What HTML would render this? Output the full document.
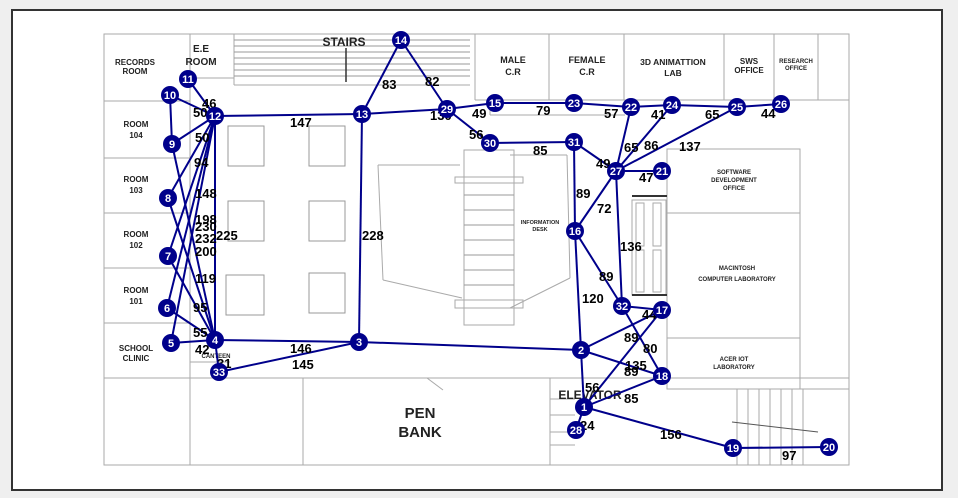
<!DOCTYPE html>
<html><head><meta charset="utf-8"><style>
html,body{margin:0;padding:0;background:#efefef;}
svg{display:block;}
.w{font-family:"Liberation Sans",sans-serif;font-weight:bold;fill:#222;text-anchor:middle;}
.l{font-family:"Liberation Sans",sans-serif;font-weight:bold;font-size:13px;fill:#000;}
.n{font-family:"Liberation Sans",sans-serif;font-weight:bold;font-size:11px;fill:#fff;text-anchor:middle;}
</style></head><body>
<svg width="958" height="498" viewBox="0 0 958 498" xmlns="http://www.w3.org/2000/svg">
<rect x="0" y="0" width="958" height="498" fill="#efefef"/>
<rect x="12" y="10" width="930" height="480" fill="#fff" stroke="#333" stroke-width="2"/>
<g fill="none" stroke="#aaa" stroke-width="1">
<rect x="104" y="34" width="745" height="431"/>
<line x1="104" y1="101" x2="190" y2="101"/>
<line x1="190" y1="34" x2="190" y2="465"/>
<line x1="190" y1="78" x2="234" y2="78"/>
<line x1="234" y1="34" x2="234" y2="85"/>
<line x1="234" y1="85" x2="470" y2="85"/>
<line x1="104" y1="158" x2="190" y2="158"/>
<line x1="104" y1="213" x2="190" y2="213"/>
<line x1="104" y1="268" x2="190" y2="268"/>
<line x1="104" y1="323" x2="190" y2="323"/>
<line x1="104" y1="378" x2="849" y2="378"/>
<line x1="190" y1="362" x2="230" y2="362"/>
<line x1="303" y1="378" x2="303" y2="465"/>
<line x1="550" y1="378" x2="550" y2="465"/>
<line x1="475" y1="34" x2="475" y2="100"/>
<line x1="549" y1="34" x2="549" y2="100"/>
<line x1="624" y1="34" x2="624" y2="100"/>
<line x1="724" y1="34" x2="724" y2="100"/>
<line x1="774" y1="34" x2="774" y2="100"/>
<line x1="818" y1="34" x2="818" y2="100"/>
<line x1="475" y1="100" x2="849" y2="100"/>
<line x1="490" y1="100" x2="490" y2="115"/>
<line x1="490" y1="115" x2="625" y2="115"/>
<rect x="667" y="149" width="133" height="240"/>
<line x1="667" y1="213" x2="800" y2="213"/>
<line x1="667" y1="338" x2="800" y2="338"/>
<line x1="800" y1="389" x2="849" y2="389"/>
<line x1="378" y1="165" x2="460" y2="165"/>
<line x1="378" y1="165" x2="383" y2="280"/>
<line x1="383" y1="280" x2="462" y2="298"/>
<rect x="464" y="150" width="50" height="175"/>
<rect x="455" y="177" width="68" height="6"/>
<rect x="455" y="300" width="68" height="8"/>
<line x1="510" y1="155" x2="567" y2="155"/>
<line x1="567" y1="155" x2="570" y2="278"/>
<line x1="570" y1="278" x2="510" y2="308"/>
<rect x="632" y="200" width="34" height="95"/>
<rect x="636" y="203" width="8" height="43"/><rect x="653" y="203" width="8" height="43"/>
<rect x="636" y="250" width="8" height="42"/><rect x="653" y="250" width="8" height="42"/>
<line x1="737" y1="389" x2="737" y2="465"/>
<line x1="748" y1="389" x2="748" y2="465"/><line x1="759" y1="389" x2="759" y2="465"/>
<line x1="770" y1="389" x2="770" y2="465"/><line x1="781" y1="389" x2="781" y2="465"/>
<line x1="792" y1="389" x2="792" y2="465"/><line x1="803" y1="389" x2="803" y2="465"/>
<line x1="732" y1="422" x2="818" y2="432" stroke="#555"/>
<line x1="550" y1="399" x2="575" y2="399"/><line x1="550" y1="415" x2="575" y2="415"/>
<line x1="550" y1="432" x2="575" y2="432"/><line x1="550" y1="445" x2="575" y2="445"/>
<line x1="427" y1="378" x2="443" y2="390"/>
</g>
<g stroke="#999" stroke-width="1">
<line x1="234" y1="40" x2="470" y2="40"/><line x1="234" y1="46" x2="470" y2="46"/>
<line x1="234" y1="52" x2="470" y2="52"/><line x1="234" y1="58" x2="470" y2="58"/>
<line x1="234" y1="64" x2="470" y2="64"/><line x1="234" y1="70" x2="470" y2="70"/>
<line x1="234" y1="76" x2="470" y2="76"/>
<line x1="464" y1="195" x2="514" y2="195"/><line x1="464" y1="210" x2="514" y2="210"/>
<line x1="464" y1="225" x2="514" y2="225"/><line x1="464" y1="240" x2="514" y2="240"/>
<line x1="464" y1="255" x2="514" y2="255"/><line x1="464" y1="270" x2="514" y2="270"/>
<line x1="464" y1="285" x2="514" y2="285"/>
</g>
<line x1="346" y1="48" x2="346" y2="82" stroke="#333" stroke-width="1.5"/>
<line x1="632" y1="196" x2="667" y2="196" stroke="#333" stroke-width="2"/>
<line x1="632" y1="295" x2="667" y2="295" stroke="#333" stroke-width="2"/>
<g fill="none" stroke="#999">
<rect x="228" y="126" width="36" height="40"/><rect x="309" y="126" width="36" height="40"/>
<rect x="228" y="201" width="36" height="40"/><rect x="309" y="201" width="36" height="40"/>
<rect x="226" y="275" width="38" height="40"/><rect x="309" y="273" width="36" height="40"/>
</g>
<g class="w">
<text x="135" y="65" font-size="8">RECORDS</text><text x="135" y="74" font-size="8">ROOM</text>
<text x="201" y="52" font-size="10">E.E</text><text x="201" y="65" font-size="10">ROOM</text>
<text x="344" y="46" font-size="12">STAIRS</text>
<text x="136" y="127" font-size="8">ROOM</text><text x="136" y="138" font-size="8">104</text>
<text x="136" y="182" font-size="8">ROOM</text><text x="136" y="193" font-size="8">103</text>
<text x="136" y="237" font-size="8">ROOM</text><text x="136" y="248" font-size="8">102</text>
<text x="136" y="293" font-size="8">ROOM</text><text x="136" y="304" font-size="8">101</text>
<text x="136" y="351" font-size="8">SCHOOL</text><text x="136" y="361" font-size="8">CLINIC</text>
<text x="513" y="63" font-size="9">MALE</text><text x="513" y="75" font-size="9">C.R</text>
<text x="587" y="63" font-size="9">FEMALE</text><text x="587" y="75" font-size="9">C.R</text>
<text x="673" y="65" font-size="8.5">3D ANIMATTION</text><text x="673" y="76" font-size="8.5">LAB</text>
<text x="749" y="64" font-size="8">SWS</text><text x="749" y="73" font-size="8">OFFICE</text>
<text x="796" y="63" font-size="6">RESEARCH</text><text x="796" y="70" font-size="6">OFFICE</text>
<text x="734" y="174" font-size="6">SOFTWARE</text><text x="734" y="182" font-size="6">DEVELOPMENT</text><text x="734" y="190" font-size="6">OFFICE</text>
<text x="737" y="270" font-size="6">MACINTOSH</text><text x="737" y="281" font-size="6">COMPUTER LABORATORY</text>
<text x="734" y="361" font-size="6">ACER IOT</text><text x="734" y="369" font-size="6">LABORATORY</text>
<text x="540" y="224" font-size="5.5">INFORMATION</text><text x="540" y="231" font-size="5.5">DESK</text>
<text x="216" y="358" font-size="6">CANTEEN</text>
<text x="420" y="418" font-size="15">PEN</text><text x="420" y="437" font-size="15">BANK</text>
<text x="590" y="399" font-size="12">ELEVATOR</text>
</g>
<g stroke="#00008b" stroke-width="2" fill="none">
<line x1="215" y1="116" x2="188" y2="79"/><line x1="215" y1="116" x2="170" y2="95"/>
<line x1="215" y1="116" x2="172" y2="144"/><line x1="215" y1="116" x2="168" y2="198"/>
<line x1="215" y1="116" x2="168" y2="256"/><line x1="215" y1="116" x2="167" y2="308"/>
<line x1="215" y1="116" x2="171" y2="343"/><line x1="215" y1="116" x2="215" y2="340"/>
<line x1="170" y1="95" x2="172" y2="144"/>
<line x1="215" y1="340" x2="172" y2="144"/><line x1="215" y1="340" x2="168" y2="198"/>
<line x1="215" y1="340" x2="168" y2="256"/><line x1="215" y1="340" x2="167" y2="308"/>
<line x1="215" y1="340" x2="171" y2="343"/><line x1="215" y1="340" x2="219" y2="372"/>
<line x1="215" y1="340" x2="359" y2="342"/><line x1="219" y1="372" x2="359" y2="342"/>
<line x1="215" y1="116" x2="362" y2="114"/><line x1="362" y1="114" x2="359" y2="342"/>
<line x1="362" y1="114" x2="401" y2="40"/><line x1="401" y1="40" x2="447" y2="109"/>
<line x1="362" y1="114" x2="447" y2="109"/><line x1="447" y1="109" x2="495" y2="103"/>
<line x1="447" y1="109" x2="490" y2="143"/><line x1="495" y1="103" x2="574" y2="103"/>
<line x1="574" y1="103" x2="631" y2="107"/><line x1="631" y1="107" x2="672" y2="105"/>
<line x1="672" y1="105" x2="737" y2="107"/><line x1="737" y1="107" x2="781" y2="104"/>
<line x1="490" y1="143" x2="574" y2="142"/><line x1="574" y1="142" x2="616" y2="171"/>
<line x1="574" y1="142" x2="575" y2="231"/><line x1="616" y1="171" x2="631" y2="107"/>
<line x1="616" y1="171" x2="672" y2="105"/><line x1="616" y1="171" x2="737" y2="107"/>
<line x1="616" y1="171" x2="662" y2="171"/><line x1="616" y1="171" x2="575" y2="231"/>
<line x1="616" y1="171" x2="622" y2="306"/><line x1="575" y1="231" x2="622" y2="306"/>
<line x1="575" y1="231" x2="581" y2="350"/><line x1="622" y1="306" x2="662" y2="310"/>
<line x1="622" y1="306" x2="662" y2="376"/><line x1="581" y1="350" x2="662" y2="310"/>
<line x1="581" y1="350" x2="662" y2="376"/><line x1="584" y1="407" x2="662" y2="310"/>
<line x1="584" y1="407" x2="662" y2="376"/><line x1="584" y1="407" x2="581" y2="350"/>
<line x1="584" y1="407" x2="576" y2="430"/><line x1="584" y1="407" x2="733" y2="448"/>
<line x1="733" y1="448" x2="829" y2="447"/><line x1="359" y1="342" x2="581" y2="350"/>
</g>
<g class="l">
<text x="202" y="108">46</text><text x="193" y="117">50</text><text x="195" y="142">50</text>
<text x="194" y="167">94</text><text x="195" y="198">148</text><text x="195" y="224">198</text>
<text x="195" y="231">230</text><text x="195" y="243">232</text><text x="216" y="240">225</text>
<text x="195" y="256">200</text><text x="195" y="283">119</text><text x="193" y="312">95</text>
<text x="193" y="337">55</text><text x="195" y="354">42</text><text x="217" y="368">31</text>
<text x="290" y="127">147</text><text x="362" y="240">228</text><text x="290" y="353">146</text>
<text x="292" y="369">145</text><text x="382" y="89">83</text><text x="425" y="86">82</text>
<text x="430" y="120">130</text><text x="472" y="118">49</text><text x="469" y="139">56</text>
<text x="536" y="115">79</text><text x="604" y="118">57</text><text x="651" y="119">41</text>
<text x="705" y="119">65</text><text x="761" y="118">44</text><text x="533" y="155">85</text>
<text x="624" y="152">65</text><text x="644" y="150">86</text><text x="679" y="151">137</text>
<text x="596" y="168">49</text><text x="639" y="182">47</text><text x="576" y="198">89</text>
<text x="597" y="213">72</text><text x="620" y="251">136</text><text x="599" y="281">89</text>
<text x="582" y="303">120</text><text x="642" y="319">44</text><text x="624" y="342">89</text>
<text x="643" y="353">80</text><text x="625" y="370">135</text><text x="624" y="376">89</text>
<text x="585" y="392">56</text><text x="624" y="403">85</text><text x="580" y="430">24</text>
<text x="660" y="439">156</text><text x="782" y="460">97</text>
</g>
<g fill="#00008b">
<circle cx="584" cy="407" r="9"/><circle cx="581" cy="350" r="9"/><circle cx="359" cy="342" r="9"/>
<circle cx="215" cy="340" r="9"/><circle cx="171" cy="343" r="9"/><circle cx="167" cy="308" r="9"/>
<circle cx="168" cy="256" r="9"/><circle cx="168" cy="198" r="9"/><circle cx="172" cy="144" r="9"/>
<circle cx="170" cy="95" r="9"/><circle cx="188" cy="79" r="9"/><circle cx="215" cy="116" r="9"/>
<circle cx="362" cy="114" r="9"/><circle cx="401" cy="40" r="9"/><circle cx="495" cy="103" r="9"/>
<circle cx="575" cy="231" r="9"/><circle cx="662" cy="310" r="9"/><circle cx="662" cy="376" r="9"/>
<circle cx="733" cy="448" r="9"/><circle cx="829" cy="447" r="9"/><circle cx="662" cy="171" r="9"/>
<circle cx="631" cy="107" r="9"/><circle cx="574" cy="103" r="9"/><circle cx="672" cy="105" r="9"/>
<circle cx="737" cy="107" r="9"/><circle cx="781" cy="104" r="9"/><circle cx="616" cy="171" r="9"/>
<circle cx="576" cy="430" r="9"/><circle cx="447" cy="109" r="9"/><circle cx="490" cy="143" r="9"/>
<circle cx="574" cy="142" r="9"/><circle cx="622" cy="306" r="9"/><circle cx="219" cy="372" r="9"/>
</g>
<g class="n">
<text x="584" y="411">1</text><text x="581" y="354">2</text><text x="359" y="346">3</text>
<text x="215" y="344">4</text><text x="171" y="347">5</text><text x="167" y="312">6</text>
<text x="168" y="260">7</text><text x="168" y="202">8</text><text x="172" y="148">9</text>
<text x="170" y="99">10</text><text x="188" y="83">11</text><text x="215" y="120">12</text>
<text x="362" y="118">13</text><text x="401" y="44">14</text><text x="495" y="107">15</text>
<text x="575" y="235">16</text><text x="662" y="314">17</text><text x="662" y="380">18</text>
<text x="733" y="452">19</text><text x="829" y="451">20</text><text x="662" y="175">21</text>
<text x="631" y="111">22</text><text x="574" y="107">23</text><text x="672" y="109">24</text>
<text x="737" y="111">25</text><text x="781" y="108">26</text><text x="616" y="175">27</text>
<text x="576" y="434">28</text><text x="447" y="113">29</text><text x="490" y="147">30</text>
<text x="574" y="146">31</text><text x="622" y="310">32</text><text x="219" y="376">33</text>
</g>
</svg>
</body></html>
